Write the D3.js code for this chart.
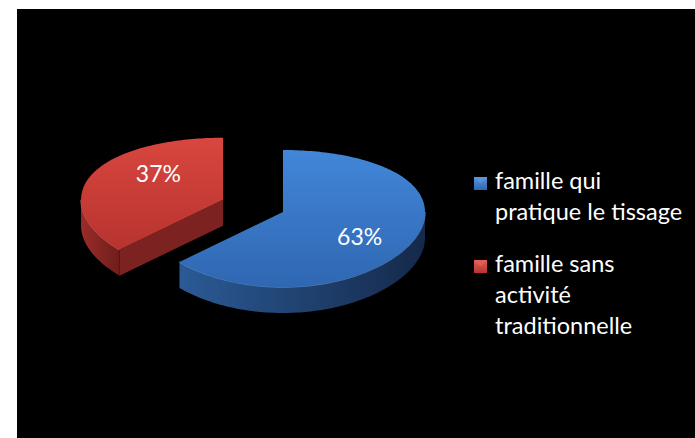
<!DOCTYPE html>
<html>
<head>
    <meta charset="utf-8">
    <title>Familles et tissage</title>
    <style>
        html, body { margin: 0; padding: 0; background: #fff; }
        svg { display: block; }
        text { font-family: Lato, "Open Sans", sans-serif; fill: #fff; }
    </style>
</head>
<body>
    <div id="chart"></div>

    <script src="https://cdnjs.cloudflare.com/ajax/libs/d3/7.8.5/d3.min.js"></script>
    <script>
        // Data
        const categories = ["famille qui pratique le tissage", "famille sans activité traditionnelle"];
        const legendLines = [["famille qui", "pratique le tissage"], ["famille sans", "activité", "traditionnelle"]];
        const values = [63, 37];
        const exploded = [0, 0.46];

        // Layout
        const width = 695, height = 438;
        const cx = 283, cy = 212;      // centre of the un-exploded pie
        const rx = 142;                // horizontal radius
        const ryA = 68.5, ryB = 6.5;   // vertical mapping (simple perspective)
        const depth = 26;

        const colors = [
            { topA: "#4286d8", topB: "#2f67b2", sideA: "#2b5a96", sideB: "#15294a", cut: "#1d3d68", rim: "#5a95dc" },
            { topA: "#d8463f", topB: "#b8332f", sideA: "#9a2c29", sideB: "#6e1e1c", cut: "#7c2321", rim: "#e0605a" }
        ];

        const svg = d3.select("#chart").append("svg")
            .attr("width", width)
            .attr("height", height);

        svg.append("rect")
            .attr("x", 17).attr("y", 9)
            .attr("width", width - 17).attr("height", height - 9)
            .attr("fill", "#000");

        const defs = svg.append("defs");
        colors.forEach((c, i) => {
            const gt = defs.append("linearGradient").attr("id", "top" + i)
                .attr("x1", 0).attr("y1", 0).attr("x2", 0).attr("y2", 1);
            gt.append("stop").attr("offset", "0%").attr("stop-color", c.topA);
            gt.append("stop").attr("offset", "100%").attr("stop-color", c.topB);
            const gs = defs.append("linearGradient").attr("id", "side" + i)
                .attr("x1", 0).attr("y1", 0).attr("x2", 1).attr("y2", 0);
            gs.append("stop").attr("offset", "0%").attr("stop-color", c.sideA);
            gs.append("stop").attr("offset", "100%").attr("stop-color", c.sideB);
            const gm = defs.append("linearGradient").attr("id", "mark" + i)
                .attr("x1", 0).attr("y1", 0).attr("x2", 0).attr("y2", 1);
            gm.append("stop").attr("offset", "0%").attr("stop-color", c.rim);
            gm.append("stop").attr("offset", "100%").attr("stop-color", c.topB);
        });

        const pie = d3.pie().sort(null).startAngle(0).endAngle(2 * Math.PI);
        const arcs = pie(values);

        // angle measured clockwise from 12 o'clock, u/v on the unit disk
        function project(u, v, ox, oy, h) {
            return [ox + rx * u, oy + ryA * v + ryB * v * v + (h || 0)];
        }
        function rimPoints(a0, a1, ox, oy, h) {
            const n = Math.max(2, Math.ceil(Math.abs(a1 - a0) / 0.02));
            return d3.range(n + 1).map(k => {
                const a = a0 + (a1 - a0) * k / n;
                return project(Math.sin(a), -Math.cos(a), ox, oy, h);
            });
        }
        const line = d3.line();

        // draw the exploded (back) slice first, then the main one
        const order = d3.range(arcs.length).sort((a, b) => exploded[b] - exploded[a]);

        order.forEach(i => {
            const d = arcs[i];
            const mid = (d.startAngle + d.endAngle) / 2;
            const eu = Math.sin(mid) * exploded[i], ev = -Math.cos(mid) * exploded[i];
            const [ox, oy] = project(eu, ev, cx, cy);
            const g = svg.append("g");

            // radial cut faces that look towards the viewer
            [[d.startAngle, d.startAngle - Math.PI / 2], [d.endAngle, d.endAngle + Math.PI / 2]].forEach(([a, na]) => {
                if (-Math.cos(na) > 0.05) {
                    const p = project(Math.sin(a), -Math.cos(a), ox, oy);
                    const pts = [[ox, oy], p, [p[0], p[1] + depth], [ox, oy + depth]];
                    g.append("path").attr("d", line(pts) + "Z").attr("fill", colors[i].cut);
                }
            });

            // outer curved side, front half only
            const s0 = Math.max(d.startAngle, Math.PI / 2);
            const s1 = Math.min(d.endAngle, 3 * Math.PI / 2);
            if (s1 > s0) {
                const top = rimPoints(s0, s1, ox, oy, 0);
                const bot = rimPoints(s0, s1, ox, oy, depth).reverse();
                g.append("path").attr("d", line(top.concat(bot)) + "Z")
                    .attr("fill", "url(#side" + i + ")");
                g.append("path").attr("d", line(top))
                    .attr("fill", "none").attr("stroke", colors[i].rim)
                    .attr("stroke-width", 1.5).attr("opacity", 0.7);
            }

            // top face
            const face = [[ox, oy]].concat(rimPoints(d.startAngle, d.endAngle, ox, oy, 0));
            g.append("path").attr("d", line(face) + "Z")
                .attr("fill", "url(#top" + i + ")");

            // value label
            const lr = 0.55;
            const lp = project(Math.sin(mid) * lr, -Math.cos(mid) * lr, ox, oy);
            g.append("text")
                .attr("x", lp[0] + (i === 0 ? 5 : 7))
                .attr("y", lp[1] + (i === 0 ? 9 : -12))
                .attr("text-anchor", "middle")
                .attr("dominant-baseline", "central")
                .style("font-size", "23px")
                .text(Math.round(d.data / d3.sum(values) * 100) + "%");
        });

        // legend
        const legendTops = [177, 260];
        const legend = svg.append("g");
        categories.forEach((c, i) => {
            const y0 = legendTops[i];
            legend.append("rect")
                .attr("x", 474).attr("y", y0).attr("width", 13).attr("height", 13)
                .attr("fill", "url(#mark" + i + ")");
            legend.append("path")
                .attr("d", `M474,${y0}L487,${y0}L480.5,${y0 + 6.5}Z`)
                .attr("fill", colors[i].rim).attr("opacity", 0.8);
            legend.append("text")
                .attr("x", 495)
                .attr("y", y0 + 12)
                .style("font-size", "23.5px")
                .selectAll("tspan")
                .data(legendLines[i])
                .join("tspan")
                .attr("x", 495)
                .attr("dy", (t, k) => k === 0 ? 0 : 31)
                .text(t => t);
        });
    </script>
</body>
</html>
